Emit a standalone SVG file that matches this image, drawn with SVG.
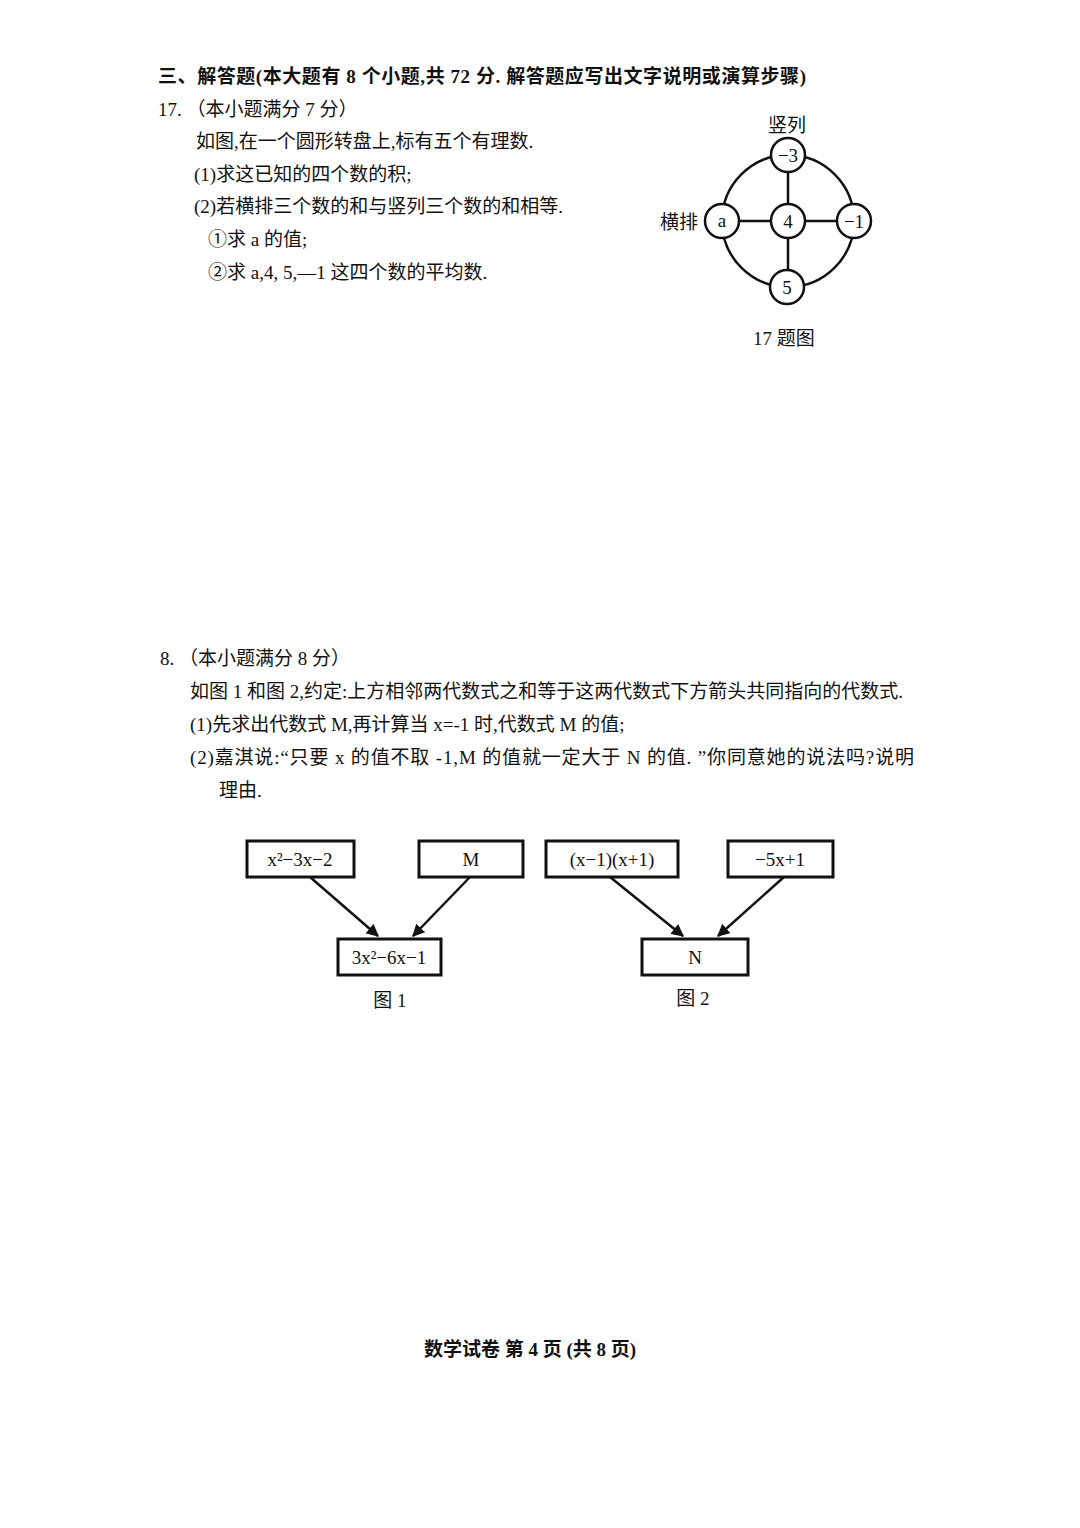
<svg xmlns="http://www.w3.org/2000/svg" width="1080" height="1528" viewBox="0 0 1080 1528">
<style>
text{font-family:"Liberation Serif","Noto Sans CJK SC",serif;font-size:19px;fill:#111}
.b{font-weight:bold}
.box{fill:#fff;stroke:#111;stroke-width:3}
.c{fill:#fff;stroke:#111;stroke-width:2.5}
.ln{stroke:#111;stroke-width:2.5;fill:none}
.t{text-anchor:middle}
</style>
<defs><marker id="ah" viewBox="0 0 10 10" refX="9" refY="5" markerWidth="5" markerHeight="5" orient="auto"><path d="M0,0L10,5L0,10z" fill="#111"/></marker></defs>
<rect width="1080" height="1528" fill="#fff"/>
<text x="158" y="83" class="b" textLength="648">三、解答题(本大题有 8 个小题,共 72 分. 解答题应写出文字说明或演算步骤)</text>
<text x="158" y="116">17. （本小题满分 7 分）</text>
<text x="196" y="148">如图,在一个圆形转盘上,标有五个有理数.</text>
<text x="194" y="181">(1)求这已知的四个数的积;</text>
<text x="194" y="213">(2)若横排三个数的和与竖列三个数的和相等.</text>
<text x="208" y="246">①求 a 的值;</text>
<text x="208" y="279">②求 a,4, 5,—1 这四个数的平均数.</text>
<g id="wheel">
<circle cx="788" cy="221" r="66" class="ln"/>
<line x1="788" y1="155" x2="788" y2="287" class="ln"/>
<line x1="722" y1="221" x2="854" y2="221" class="ln"/>
<circle cx="788" cy="155" r="17" class="c"/><text x="788" y="162" class="t">−3</text>
<circle cx="722" cy="221" r="17" class="c"/><text x="722" y="227" class="t">a</text>
<circle cx="788" cy="221" r="17" class="c"/><text x="788" y="228" class="t">4</text>
<circle cx="854" cy="221" r="17" class="c"/><text x="854" y="228" class="t">−1</text>
<circle cx="787" cy="287" r="17" class="c"/><text x="787" y="294" class="t">5</text>
<text x="660" y="229">横排</text>
<text x="768" y="132">竖列</text>
<text x="753" y="345">17 题图</text>
</g>
<text x="160" y="665">8. （本小题满分 8 分）</text>
<text x="190" y="698">如图 1 和图 2,约定:上方相邻两代数式之和等于这两代数式下方箭头共同指向的代数式.</text>
<text x="190" y="731">(1)先求出代数式 M,再计算当 x=-1 时,代数式 M 的值;</text>
<text x="190" y="764" textLength="724">(2)嘉淇说:“只要 x 的值不取 -1,M 的值就一定大于 N 的值. ”你同意她的说法吗?说明</text>
<text x="219" y="797">理由.</text>
<g id="connectors">
<line x1="310" y1="877" x2="378" y2="936" class="ln" marker-end="url(#ah)"/>
<line x1="470" y1="877" x2="413" y2="936" class="ln" marker-end="url(#ah)"/>
<line x1="610" y1="877" x2="683" y2="936" class="ln" marker-end="url(#ah)"/>
<line x1="784" y1="877" x2="718" y2="936" class="ln" marker-end="url(#ah)"/>
</g>
<g id="n1"><rect x="247" y="841" width="107" height="36" class="box"/><text x="300" y="866" class="t">x²−3x−2</text></g>
<g id="n2"><rect x="419" y="841" width="104" height="36" class="box"/><text x="471" y="866" class="t">M</text></g>
<g id="n3"><rect x="338" y="939" width="103" height="36" class="box"/><text x="389" y="964" class="t">3x²−6x−1</text></g>
<g id="n4"><rect x="546" y="841" width="132" height="36" class="box"/><text x="612" y="866" class="t">(x−1)(x+1)</text></g>
<g id="n5"><rect x="728" y="841" width="105" height="36" class="box"/><text x="780" y="866" class="t">−5x+1</text></g>
<g id="n6"><rect x="642" y="939" width="106" height="36" class="box"/><text x="695" y="964" class="t">N</text></g>
<text x="390" y="1007" class="t">图 1</text>
<text x="693" y="1005" class="t">图 2</text>
<text x="530" y="1356" class="t b">数学试卷 第 4 页 (共 8 页)</text>
</svg>
